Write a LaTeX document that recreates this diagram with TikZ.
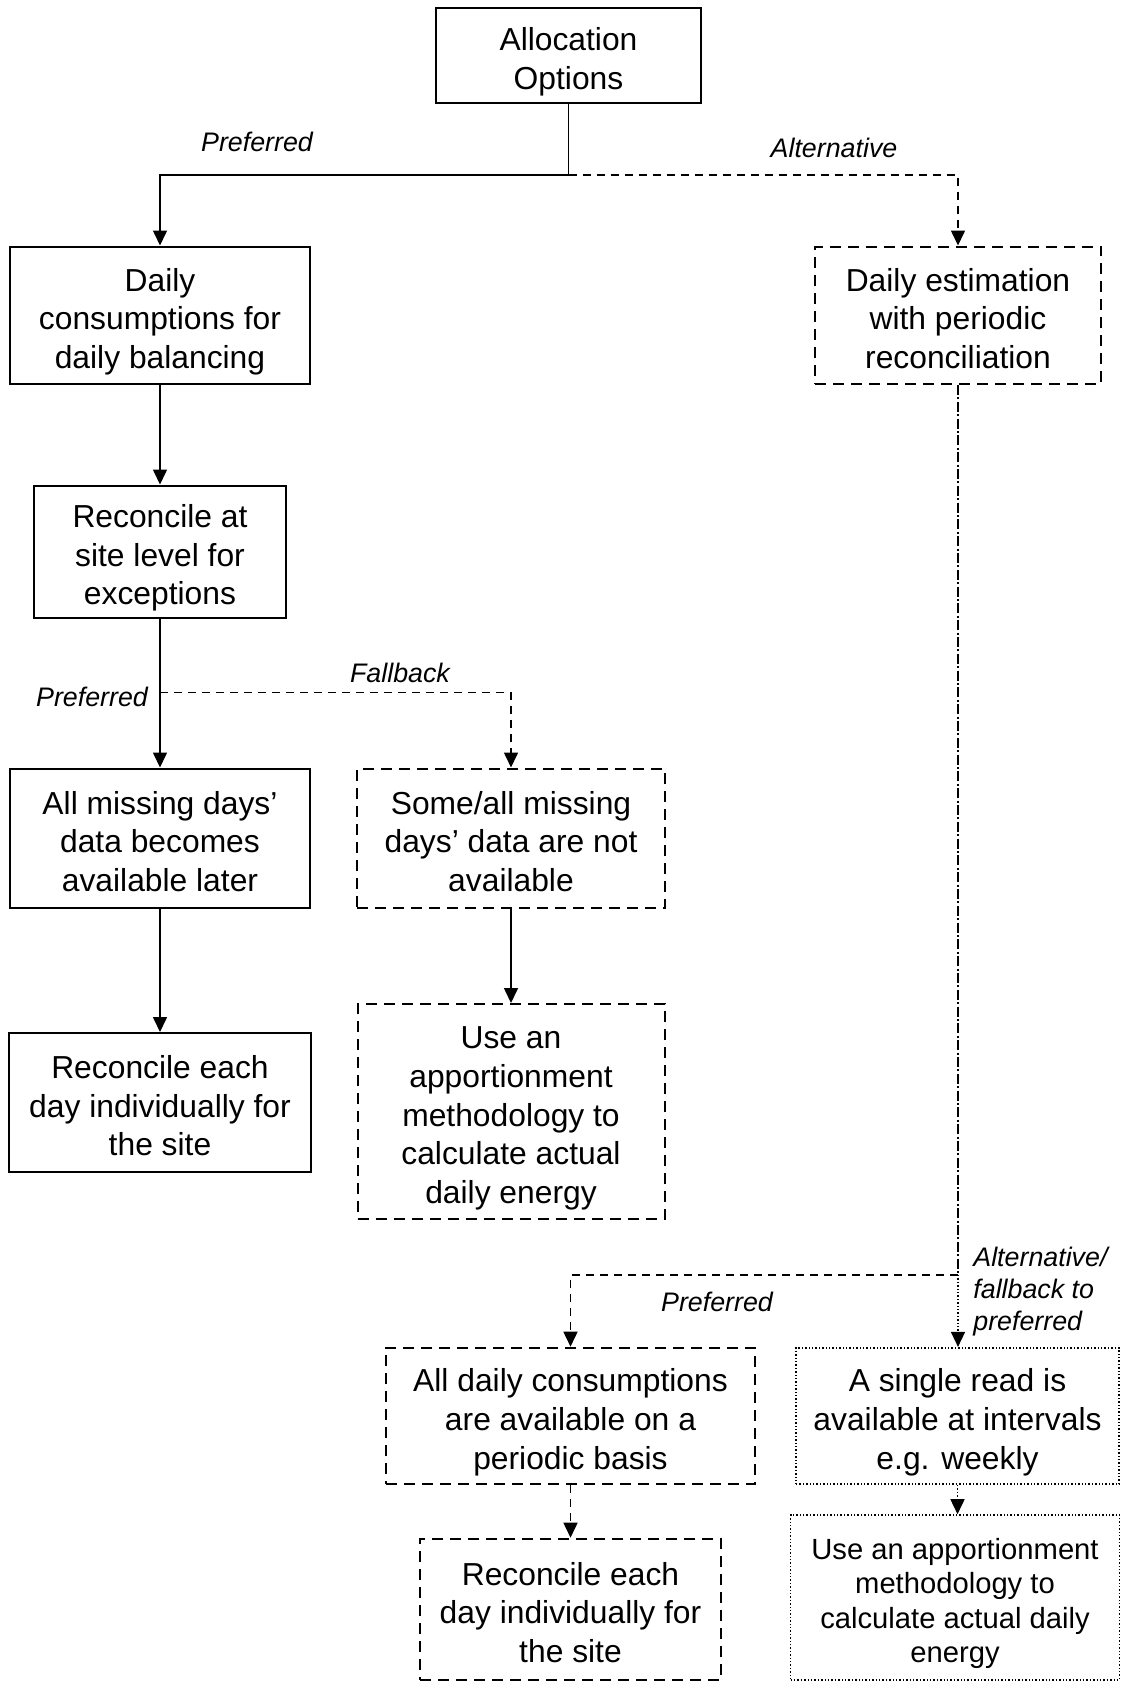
\documentclass[tikz,border=0pt]{standalone}
\usepackage{fontspec}
\setmainfont{Liberation Sans}
\usetikzlibrary{arrows.meta}
\newcommand{\tS}{\rule{0pt}{18pt}}
\newcommand{\bS}{\rule[-3.5pt]{0pt}{3.5pt}}
\newcommand{\tSs}{\rule{0pt}{16.5pt}}
\newcommand{\bSs}{\rule[-3.2pt]{0pt}{3.2pt}}
\begin{document}
\begin{tikzpicture}[x=0.5pt,y=-0.5pt,
  base/.style={draw=black, inner sep=0pt, align=center, font=\fontsize{15.9}{19.3}\selectfont},
  solidbox/.style={base, line width=1pt},
  dashbox/.style={base, line width=1pt, dash pattern=on 5.5pt off 3.5pt},
  dotbox/.style={base, line width=0.8pt, dash pattern=on 0.7pt off 1pt},
  conn/.style={line width=0.8pt, -{Triangle[width=7pt,length=7.5pt]}},
  plain/.style={line width=0.8pt},
  dashconn/.style={line width=0.8pt, dash pattern=on 4pt off 3pt},
  dotconn/.style={line width=0.8pt, dash pattern=on 0.7pt off 1pt},
  dashdot/.style={line width=0.6pt, dash pattern=on 5pt off 1.2pt on 1pt off 1.2pt},
  lbl/.style={font=\fontsize{13.4}{16}\selectfont\itshape, inner sep=0pt}
]
\useasboundingbox (0,0) rectangle (1120,1681);

% boxes
\node[solidbox, minimum width=132.5pt, minimum height=47.5pt] (alloc) at (568.5,55.5) {\tS Allocation\\Options\bS};
\node[solidbox, minimum width=150pt, minimum height=68.75pt] (dcons) at (160,315.25) {\tS Daily\\consumptions for\\daily balancing\bS};
\node[dashbox, minimum width=143pt, minimum height=68.75pt] (dest) at (958,315.25) {\tS Daily estimation\\with periodic\\reconciliation\bS};
\node[solidbox, minimum width=126pt, minimum height=66pt] (recsite) at (160,551.5) {\tS Reconcile at\\site level for\\exceptions\bS};
\node[solidbox, minimum width=150pt, minimum height=69.75pt] (allmiss) at (160,838.25) {\tS All missing days’\\data becomes\\available later\bS};
\node[dashbox, minimum width=153.75pt, minimum height=69.75pt] (somemiss) at (511,838.25) {\tS Some/all missing\\days’ data are not\\available\bS};
\node[solidbox, minimum width=151pt, minimum height=69.5pt] (recl) at (160,1102.5) {\tS Reconcile each\\day individually for\\the site\bS};
\node[dashbox, minimum width=153.5pt, minimum height=107.5pt] (appm) at (511,1111.5) {\tS Use an\\apportionment\\methodology to\\calculate actual\\daily energy\bS};
\node[dashbox, minimum width=184.5pt, minimum height=68.2pt] (alldaily) at (570.5,1415.9) {\tS All daily consumptions\\are available on a\\periodic basis\bS};
\node[dotbox, minimum width=161.5pt, minimum height=68.2pt] (single) at (957.5,1415.9) {\tS A single read is\\available at intervals\\e.g. weekly\bS};
\node[dashbox, minimum width=150.5pt, minimum height=70.65pt] (recb) at (570.5,1609.35) {\tS Reconcile each\\day individually for\\the site\bS};
\node[dotbox, minimum width=164.5pt, minimum height=82.5pt, font=\fontsize{14.6}{17.2}\selectfont] (appr) at (955,1597.5) {\tSs Use an apportionment\\methodology to\\calculate actual daily\\energy\bSs};

% junctions
\coordinate (j1) at (568.5,175);
\coordinate (j2) at (160,692.5);
\coordinate (j3) at (958,1275);

% connectors
\draw[plain] (alloc.south) -- (j1);
\draw[conn] (j1) -| (dcons.north);
\draw[conn, dashconn] (j1) -| (dest.north);
\draw[conn] (dcons.south) -- (recsite.north);
\draw[conn] (recsite.south) -- (allmiss.north);
\draw[conn, dashconn] (j2) -| (somemiss.north);
\draw[conn] (allmiss.south) -- (recl.north);
\draw[conn] (somemiss.south) -- (appm.north);
\draw[dashdot] (dest.south) -- (j3);
\draw[conn, dashconn] (j3) -| (alldaily.north);
\draw[conn, dotconn] (j3) -- (j3 |- single.north);
\draw[conn, dashconn] (alldaily.south) -- (recb.north);
\draw[conn, dotconn] (single.south) -- (single.south |- appr.north);

% labels
\node[lbl] (lpref1) at (257,141.5) {Preferred};
\node[lbl] (lalt1) at (834,148) {Alternative};
\node[lbl] (lpref2) at (92,697) {Preferred};
\node[lbl] (lfall) at (400,673) {Fallback};
\node[lbl] (lpref3) at (717,1302) {Preferred};
\node[lbl, anchor=west, align=left] (lalt2) at (973,1292) {Alternative/\\fallback to\\preferred};
\end{tikzpicture}
\end{document}
